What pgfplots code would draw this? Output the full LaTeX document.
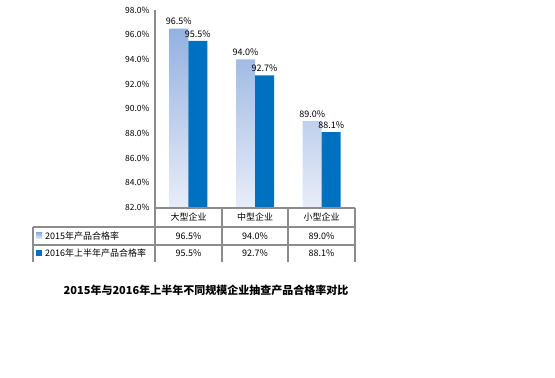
\documentclass[border=0pt]{standalone}
\usepackage{pgfplots}
\pgfplotsset{compat=1.18}
\usepackage{fontspec}
\setmainfont{Noto Sans CJK SC}
\definecolor{lighttop}{HTML}{94B1E0}
\definecolor{lightbot}{HTML}{E8EDF8}
\definecolor{darkbar}{HTML}{0070C0}
\definecolor{gridgray}{HTML}{8C8C8C}
\begin{document}
\begin{tikzpicture}
\useasboundingbox (0pt,0pt) rectangle (555pt,378pt);
\begin{axis}[
  at={(155pt,170.5pt)}, anchor=south west,
  scale only axis, width=200pt, height=197.5pt,
  xmin=0.5, xmax=3.5, ymin=82, ymax=98,
  xtick=\empty,
  ytick={82,84,...,98},
  yticklabel={\pgfmathprintnumber[fixed,fixed zerofill,precision=1]{\tick}\%},
  /pgf/number format/assume math mode=true,
  yticklabel style={font=\fontsize{8.5}{10}\selectfont, xshift=-2pt},
  axis line style={draw=none},
  tick style={draw=none},
  ybar, bar width=19pt,
  clip=false,
  nodes near coords={\pgfmathprintnumber[fixed,fixed zerofill,precision=1,assume math mode=true]{\pgfplotspointmeta}\%},
  nodes near coords style={font=\fontsize{9}{10}\selectfont, text=black},
]
\addplot[draw=none, top color=lighttop, bottom color=lightbot, bar shift=-9.5pt]
  coordinates {(1,96.5) (2,94.0) (3,89.0)};
\addplot[draw=none, fill=darkbar, bar shift=9.5pt]
  coordinates {(1,95.5) (2,92.7) (3,88.1)};
\end{axis}
% table lines
\begin{scope}[x=1pt, y=1pt]
\begin{scope}[draw=gridgray, line width=1.2pt]
\draw (155,368) -- (155,116);
\draw (155,170) -- (355,170);
\draw (33,151) -- (355,151);
\draw (33,133) -- (355,133);
\draw (222,170) -- (222,116);
\draw (288,170) -- (288,116);
\draw (355,170) -- (355,116);
\draw (33,151) -- (33,116);
\end{scope}
\begin{scope}[every node/.style={font=\fontsize{9}{10}\selectfont, inner sep=0pt}]
\node at (188.5,161) {大型企业};
\node at (255,161) {中型企业};
\node at (321.5,161) {小型企业};
\node at (188.5,142) {96.5\%};
\node at (255,142) {94.0\%};
\node at (321.5,142) {89.0\%};
\node at (188.5,125) {95.5\%};
\node at (255,125) {92.7\%};
\node at (321.5,125) {88.1\%};
\node[anchor=west] at (45,142) {2015年产品合格率};
\node[anchor=west] at (45,125) {2016年上半年产品合格率};
\end{scope}
\shade[top color=lighttop, bottom color=lightbot] (36,139) rectangle (42,145);
\fill[darkbar] (36,122) rectangle (42,128);
\node[font=\fontsize{11}{13}\selectfont\bfseries] at (206,88) {2015年与2016年上半年不同规模企业抽查产品合格率对比};
\end{scope}
\end{tikzpicture}
\end{document}
